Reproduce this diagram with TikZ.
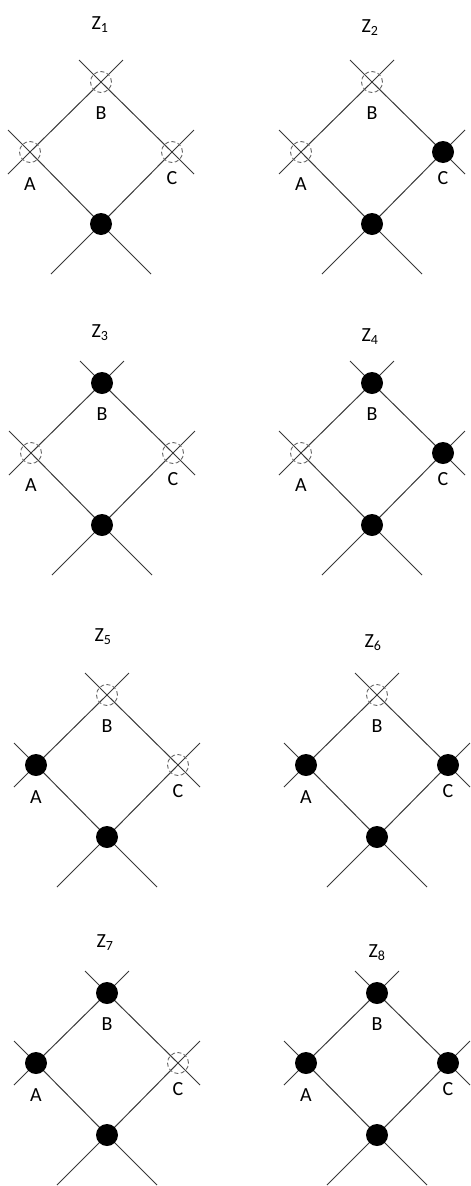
\documentclass[tikz,border=0pt]{standalone}
\usepackage{fontspec}
\setmainfont{Carlito}
\usetikzlibrary{calc,backgrounds}
\tikzset{
  fullv/.style={circle,fill=black,inner sep=0pt,minimum size=22pt},
  openv/.style={circle,draw=black!60,dash pattern=on 4pt off 2.5pt,line width=0.9pt,inner sep=0pt,minimum size=21pt},
  edge/.style={draw=black!78,line width=1pt},
  lbl/.style={font=\fontsize{20}{20}\selectfont,inner sep=0pt},
}
% #1 id, #2 cx, #3 top y, #4 title x, #5 title y, #6 index, #7 A, #8 B, #9 C
\newcommand\lattice[9]{%
  \node[lbl] (T#1) at (#4,#5) {Z\textsubscript{#6}};
  \node[#7] (A#1) at (#2-71,#3+70) {};
  \node[#8] (B#1) at (#2,#3) {};
  \node[#9] (C#1) at (#2+71,#3+70) {};
  \node[fullv] (D#1) at (#2,#3+142) {};
  \node[lbl] (LA#1) at ($(A#1.center)+(0,32)$) {A};
  \node[lbl] (LB#1) at ($(B#1.center)+(0,31)$) {B};
  \node[lbl] (LC#1) at ($(C#1.center)+(0,26)$) {C};
  \begin{pgfonlayer}{background}
    \draw[edge] ($(A#1.center)+(-22,22)$) -- (A#1.center) -- (B#1.center) -- ($(B#1.center)+(22,-22)$);
    \draw[edge] ($(B#1.center)+(-22,-22)$) -- (B#1.center) -- (C#1.center) -- ($(C#1.center)+(22,22)$);
    \draw[edge] ($(A#1.center)+(-22,-22)$) -- (A#1.center) -- (D#1.center) -- ($(D#1.center)+(50,50)$);
    \draw[edge] ($(C#1.center)+(22,-22)$) -- (C#1.center) -- (D#1.center) -- ($(D#1.center)+(-50,50)$);
  \end{pgfonlayer}
}
\begin{document}
\begin{tikzpicture}[x=1pt,y=-1pt]
  \useasboundingbox (0,0) rectangle (471,1186);
  \lattice{1}{101}{82}{100}{25}{1}{openv}{openv}{openv}
  \lattice{2}{372}{82}{370}{28}{2}{openv}{openv}{fullv}
  \lattice{3}{102}{383}{100}{333}{3}{openv}{fullv}{openv}
  \lattice{4}{372}{383}{370}{337}{4}{openv}{fullv}{fullv}
  \lattice{5}{107}{695}{103}{637}{5}{fullv}{openv}{openv}
  \lattice{6}{377}{695}{373}{643}{6}{fullv}{openv}{fullv}
  \lattice{7}{107}{993}{105}{943}{7}{fullv}{fullv}{openv}
  \lattice{8}{377}{993}{377}{953}{8}{fullv}{fullv}{fullv}
\end{tikzpicture}
\end{document}
